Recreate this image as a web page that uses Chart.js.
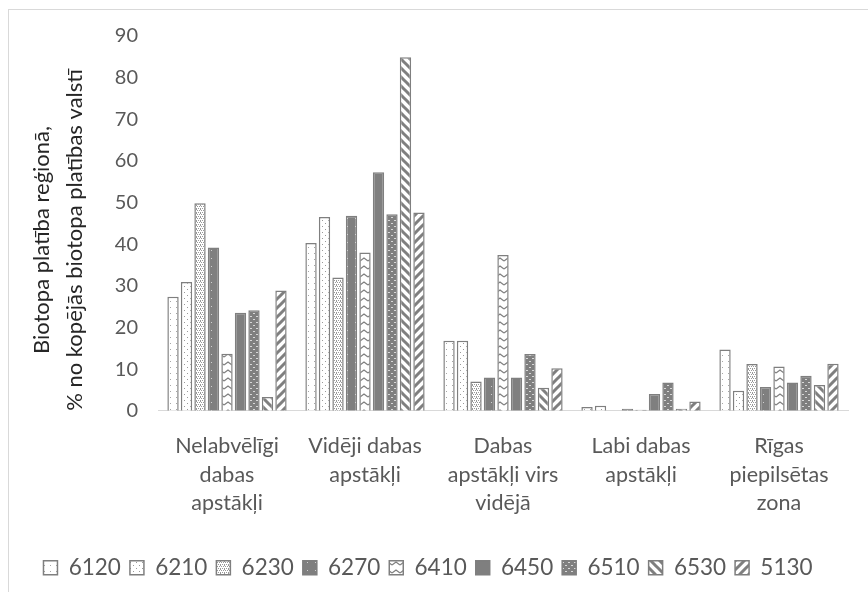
<!DOCTYPE html>
<html>
<head>
<meta charset="utf-8">
<script src="https://cdn.jsdelivr.net/npm/chart.js@4.4.0/dist/chart.umd.min.js"></script>
<style>
  html, body { margin: 0; padding: 0; background: #fff; }
  #wrap { position: relative; width: 868px; height: 592px; }
  #frame { position: absolute; left: 8px; top: 9px; right: -2px; bottom: -2px; border: 1px solid #d9d9d9; }
  canvas { position: absolute; left: 0; top: 0; }
</style>
</head>
<body>
<div id="wrap">
  <div id="frame"></div>
  <canvas id="chart" width="868" height="592"></canvas>
</div>
<script>
// ---------- Dati ----------
const regions = [
  ['Nelabvēlīgi', 'dabas', 'apstākļi'],
  ['Vidēji dabas', 'apstākļi'],
  ['Dabas', 'apstākļi virs', 'vidējā'],
  ['Labi dabas', 'apstākļi'],
  ['Rīgas', 'piepilsētas', 'zona']
];
const habitats = ['6120', '6210', '6230', '6270', '6410', '6450', '6510', '6530', '5130'];

const v6120 = [27.4, 40.3, 16.8, 0.9, 14.7];
const v6210 = [30.9, 46.5, 16.8, 1.2, 4.8];
const v6230 = [49.8, 32.0, 7.0, 0, 11.2];
const v6270 = [39.2, 46.8, 8.0, 0.5, 5.7];
const v6410 = [13.7, 38.0, 37.4, 0.25, 10.6];
const v6450 = [23.5, 57.3, 8.0, 4.0, 6.8];
const v6510 = [24.1, 47.2, 13.6, 6.8, 8.4];
const v6530 = [3.3, 84.9, 5.5, 0.5, 6.2];
const v5130 = [28.9, 47.6, 10.2, 2.2, 11.3];

const yTicks = [0, 10, 20, 30, 40, 50, 60, 70, 80, 90];
const yTitle = ['Biotopa platība reģionā,', '% no kopējās biotopa platības valstī'];

// ---------- Raksti (pattern fill) ----------
const GRAY = '#7f7f7f';
const ctxMain = document.getElementById('chart').getContext('2d');

function makePattern(size, draw) {
  const c = document.createElement('canvas');
  c.width = size; c.height = size;
  const g = c.getContext('2d');
  draw(g, size);
  return ctxMain.createPattern(c, 'repeat');
}

const patterns = {
  '6120': makePattern(6, (g) => {
    g.fillStyle = '#fff'; g.fillRect(0, 0, 6, 6);
    g.fillStyle = '#a6a6a6'; g.fillRect(2, 1, 1, 1);
  }),
  '6210': makePattern(6, (g) => {
    g.fillStyle = '#fff'; g.fillRect(0, 0, 6, 6);
    g.fillStyle = '#999'; g.fillRect(1, 1, 1, 1); g.fillRect(4, 4, 1, 1);
  }),
  '6230': makePattern(4, (g) => {
    g.fillStyle = '#fff'; g.fillRect(0, 0, 4, 4);
    g.fillStyle = '#999'; g.fillRect(0, 0, 1, 1); g.fillRect(2, 0, 1, 1);
    g.fillRect(1, 2, 1, 1); g.fillRect(3, 2, 1, 1); g.fillRect(0, 1, 1, 1);
  }),
  '6270': makePattern(8, (g) => {
    g.fillStyle = GRAY; g.fillRect(0, 0, 8, 8);
    g.fillStyle = '#d0d0d0'; g.fillRect(3, 2, 1, 1);
  }),
  '6410': makePattern(8, (g) => {
    g.fillStyle = '#fff'; g.fillRect(0, 0, 8, 8);
    g.strokeStyle = GRAY; g.lineWidth = 1.2;
    g.beginPath();
    g.moveTo(0, 5); g.lineTo(4, 2); g.lineTo(8, 5);
    g.stroke();
  }),
  '6450': GRAY,
  '6510': makePattern(6, (g) => {
    g.fillStyle = GRAY; g.fillRect(0, 0, 6, 6);
    g.fillStyle = '#d8d8d8'; g.fillRect(1, 1, 2, 1); g.fillRect(4, 4, 2, 1);
  }),
  '6530': makePattern(9, (g) => {
    g.fillStyle = '#fff'; g.fillRect(0, 0, 9, 9);
    g.strokeStyle = GRAY; g.lineWidth = 3;
    g.beginPath();
    g.moveTo(-9, 0); g.lineTo(9, 18);
    g.moveTo(0, 0); g.lineTo(9, 9);
    g.moveTo(0, -9); g.lineTo(18, 9);
    g.moveTo(-9, -9); g.lineTo(9, 9);
    g.stroke();
  }),
  '5130': makePattern(9, (g) => {
    g.fillStyle = '#fff'; g.fillRect(0, 0, 9, 9);
    g.strokeStyle = GRAY; g.lineWidth = 3;
    g.beginPath();
    g.moveTo(0, 9); g.lineTo(9, 0);
    g.moveTo(-9, 9); g.lineTo(9, -9);
    g.moveTo(0, 18); g.lineTo(18, 0);
    g.stroke();
  })
};

const seriesValues = [v6120, v6210, v6230, v6270, v6410, v6450, v6510, v6530, v5130];

const datasets = habitats.map((h, i) => ({
  label: h,
  data: seriesValues[i],
  backgroundColor: patterns[h],
  borderColor: GRAY,
  borderWidth: 1.5,
  categoryPercentage: 0.88,
  barPercentage: 0.84
}));

const FONT = 'Lato, "Open Sans", sans-serif';

// Ass nosaukums divās rindās, pagriezts, nedaudz zemāk par ass centru
const yTitlePlugin = {
  id: 'yTitle',
  afterDraw(chart) {
    const c = chart.ctx;
    c.save();
    c.fillStyle = '#262626';
    c.font = `22px ${FONT}`;
    c.textAlign = 'center';
    c.textBaseline = 'middle';
    [42, 75].forEach((x, i) => {
      c.save();
      c.translate(x, 240);
      c.rotate(-Math.PI / 2);
      c.fillText(yTitle[i], 0, 0);
      c.restore();
    });
    c.restore();
  }
};

new Chart(ctxMain, {
  type: 'bar',
  data: { labels: regions, datasets },
  plugins: [yTitlePlugin],
  options: {
    responsive: false,
    animation: false,
    layout: { padding: { top: 36, right: 20, left: 8, bottom: 3 } },
    plugins: {
      tooltip: { enabled: false },
      legend: {
        position: 'bottom',
        labels: {
          color: '#595959',
          font: { family: FONT, size: 22.5 },
          boxWidth: 14,
          boxHeight: 14,
          padding: 9
        }
      }
    },
    scales: {
      x: {
        grid: { display: false, drawTicks: false },
        border: { color: '#d9d9d9', width: 1 },
        afterFit: (axis) => { axis.height += 9; },
        ticks: {
          color: '#595959',
          font: { family: FONT, size: 21.5, lineHeight: 1.33 },
          maxRotation: 0,
          padding: 21
        }
      },
      y: {
        min: 0,
        max: 90,
        afterBuildTicks: (axis) => { axis.ticks = yTicks.map(v => ({ value: v })); },
        afterFit: (axis) => { axis.width = 150; },
        grid: { display: false, drawTicks: false },
        border: { display: false },
        ticks: {
          color: '#595959',
          font: { family: FONT, size: 20 },
          padding: 20
        }
      }
    }
  }
});
</script>
</body>
</html>
